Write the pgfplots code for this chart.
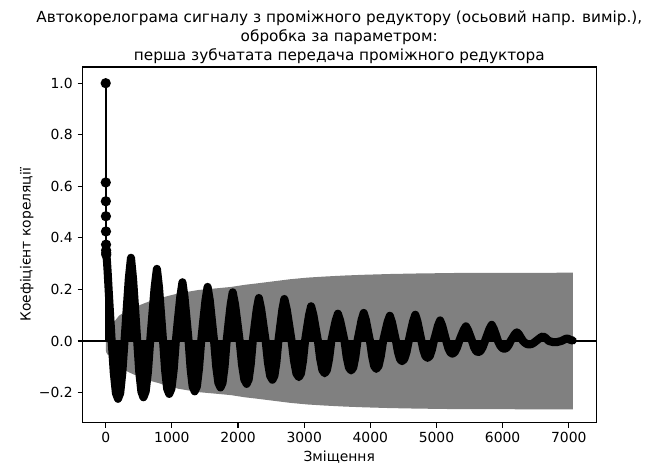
\documentclass[border=0pt]{standalone}
\usepackage{pgfplots}
\pgfplotsset{compat=1.18}
\usepackage{pgfplotstable}
\usepgfplotslibrary{fillbetween}
\usepackage{fontspec}
\setmainfont{DejaVu Sans}

\pgfplotstableread{
lag val
8 0.335
12 0.330
20 0.305
30 0.265
45 0.195
60 0.130
75 0.065
90 0.000
122 -0.123
154 -0.202
186 -0.224
219 -0.202
251 -0.123
284 0.000
317 0.123
349 0.242
382 0.323
413 0.242
445 0.123
476 0.000
507 -0.120
539 -0.196
570 -0.218
604 -0.196
638 -0.120
672 0.000
706 0.106
740 0.210
774 0.280
805 0.210
836 0.106
867 0.000
898 -0.113
929 -0.185
960 -0.205
993 -0.185
1027 -0.113
1060 0.000
1093 0.087
1127 0.171
1160 0.228
1191 0.171
1222 0.087
1253 0.000
1283 -0.107
1314 -0.176
1345 -0.195
1378 -0.176
1410 -0.107
1443 0.000
1475 0.080
1508 0.158
1540 0.210
1573 0.158
1605 0.080
1638 0.000
1670 -0.099
1703 -0.162
1735 -0.180
1766 -0.162
1797 -0.099
1828 0.000
1858 0.072
1889 0.142
1920 0.189
1955 0.142
1990 0.072
2025 0.000
2060 -0.091
2095 -0.149
2130 -0.166
2161 -0.149
2192 -0.091
2223 0.000
2253 0.063
2284 0.125
2315 0.167
2349 0.125
2383 0.063
2418 0.000
2452 -0.083
2486 -0.135
2520 -0.150
2550 -0.135
2580 -0.083
2610 0.000
2640 0.062
2670 0.122
2700 0.163
2737 0.122
2773 0.062
2810 0.000
2847 -0.077
2883 -0.126
2920 -0.140
2951 -0.126
2982 -0.077
3013 0.000
3043 0.051
3074 0.101
3105 0.135
3139 0.101
3173 0.051
3208 0.000
3242 -0.069
3276 -0.113
3310 -0.125
3343 -0.113
3377 -0.069
3410 0.000
3443 0.040
3477 0.080
3510 0.106
3543 0.080
3577 0.040
3610 0.000
3643 -0.063
3677 -0.103
3710 -0.114
3742 -0.103
3773 -0.063
3805 0.000
3837 0.041
3868 0.082
3900 0.109
3932 0.082
3963 0.041
3995 0.000
4027 -0.059
4058 -0.097
4090 -0.108
4124 -0.097
4158 -0.059
4193 0.000
4227 0.037
4261 0.074
4295 0.098
4326 0.074
4357 0.037
4388 0.000
4418 -0.043
4449 -0.070
4480 -0.078
4513 -0.070
4547 -0.043
4580 0.000
4613 0.039
4647 0.077
4680 0.102
4711 0.077
4742 0.039
4773 0.000
4803 -0.036
4834 -0.059
4865 -0.065
4897 -0.059
4928 -0.036
4960 0.000
4992 0.030
5023 0.060
5055 0.080
5086 0.060
5117 0.030
5148 0.000
5178 -0.027
5209 -0.044
5240 -0.049
5274 -0.044
5308 -0.027
5343 0.000
5377 0.022
5411 0.043
5445 0.057
5476 0.043
5507 0.022
5538 0.000
5568 -0.024
5599 -0.039
5630 -0.043
5664 -0.039
5698 -0.024
5733 0.000
5767 0.024
5801 0.047
5835 0.063
5867 0.047
5898 0.024
5930 0.000
5962 -0.017
5993 -0.027
6025 -0.030
6057 -0.027
6088 -0.017
6120 0.000
6152 0.013
6183 0.026
6215 0.034
6246 0.026
6277 0.013
6308 0.000
6338 -0.007
6369 -0.012
6400 -0.013
6435 -0.012
6470 -0.007
6505 0.000
6540 0.007
6575 0.014
6610 0.018
6640 0.014
6670 0.007
6700 0.000
6730 -0.002
6760 -0.004
6790 -0.004
6822 -0.004
6853 -0.002
6885 0.000
6917 0.004
6948 0.008
6980 0.010
7020 0.005
7060 0.002
}\acfcurve

\pgfplotstableread{
lag up lo
1 0.035 -0.035
10 0.045 -0.045
30 0.053 -0.053
60 0.058 -0.058
100 0.066 -0.066
150 0.082 -0.082
200 0.098 -0.098
300 0.115 -0.115
400 0.127 -0.127
500 0.138 -0.138
650 0.153 -0.153
800 0.163 -0.163
900 0.172 -0.172
1100 0.185 -0.185
1400 0.198 -0.198
1700 0.205 -0.205
1900 0.210 -0.210
2100 0.218 -0.218
2300 0.224 -0.224
2550 0.232 -0.232
2800 0.240 -0.240
3050 0.246 -0.246
3300 0.250 -0.250
3600 0.254 -0.254
3900 0.257 -0.257
4300 0.260 -0.260
4700 0.262 -0.262
5300 0.264 -0.264
7060 0.265 -0.265
}\band

\pgfplotsset{every axis title/.style={at={(0.5,1)}, anchor=south, inner sep=0pt, yshift=2pt, align=center, font=\fontsize{11}{13.7}\selectfont}}

\begin{document}
\begin{tikzpicture}
\begin{axis}[
  at={(0pt,0pt)}, anchor=south west,
  scale only axis, width=369.9pt, height=256.2pt,
  xmin=-353, xmax=7413, ymin=-0.317, ymax=1.063,
  axis line style={line width=0.8pt},
  tick style={line width=0.8pt, black},
  tick align=outside, major tick length=3.5pt,
  xtick pos=left, ytick pos=left,
  xtick={0,1000,2000,3000,4000,5000,6000,7000},
  xticklabels={0,1000,2000,3000,4000,5000,6000,7000},
  ytick={-0.2,0,0.2,0.4,0.6,0.8,1.0},
  yticklabels={−0.2,0.0,0.2,0.4,0.6,0.8,1.0},
  ticklabel style={font=\fontsize{10}{12}\selectfont},
  xlabel={Зміщення}, ylabel={Коефіцієнт кореляції},
  label style={font=\fontsize{10}{12}\selectfont},
  xlabel style={yshift=1pt},
  ylabel style={yshift=-3pt},
  title={Автокорелограма сигналу з проміжного редуктору (осьовий напр. вимір.),\\обробка за параметром:\\перша зубчатата передача проміжного редуктора},
]
\addplot[name path=up, draw=none, forget plot] table[x=lag,y=up]{\band};
\addplot[name path=lo, draw=none, forget plot] table[x=lag,y=lo]{\band};
\addplot[fill=gray, draw=none] fill between[of=up and lo];
\addplot[fill=black, draw=none] table[x=lag,y=val]{\acfcurve} \closedcycle;
\addplot[black, line width=5.8pt, line join=round, line cap=round] table[x=lag,y=val]{\acfcurve};
\addplot[ycomb, black, line width=1.5pt, mark=*, mark size=2.9pt] coordinates {(0,1.0)(1,0.615)(2,0.542)(3,0.484)(4,0.425)(5,0.374)(6,0.352)(7,0.342)(8,0.335)};
\addplot[black, line width=1.2pt] coordinates {(-353,0)(7413,0)};
\end{axis}
\pgfresetboundingbox
\path[use as bounding box] (-59.3pt,-31.1pt) rectangle (415.9pt,304.4pt);
\end{tikzpicture}
\end{document}
